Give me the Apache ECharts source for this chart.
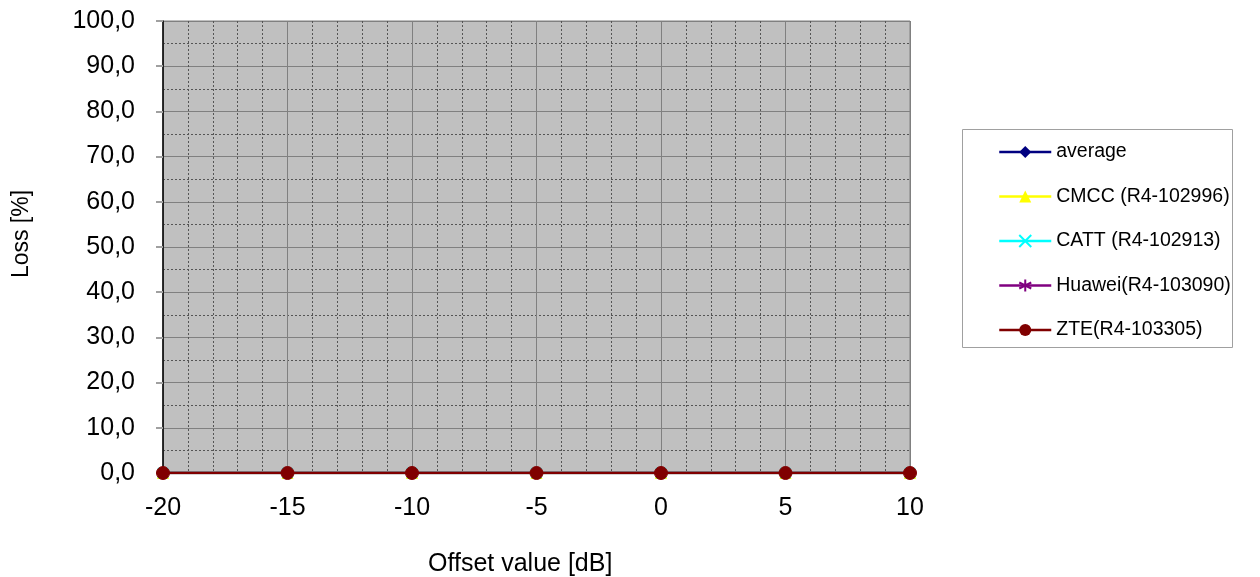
<!DOCTYPE html>
<html><head><meta charset="utf-8">
<script src="https://cdn.jsdelivr.net/npm/echarts@6/dist/echarts.min.js"></script>
<style>html,body{margin:0;padding:0;background:#fff}#c{width:1260px;height:577px}</style>
</head><body><div id="c"></div>
<script>
var offsets = [-20, -15, -10, -5, 0, 5, 10];
var avgLoss = [0, 0, 0, 0, 0, 0, 0];
var cmccLoss = [0, 0, 0, 0, 0, 0, 0];
var cattLoss = [0, 0, 0, 0, 0, 0, 0];
var huaweiLoss = [0, 0, 0, 0, 0, 0, 0];
var zteLoss = [0, 0, 0, 0, 0, 0, 0];
var seriesNames = ['average', 'CMCC (R4-102996)', 'CATT (R4-102913)', 'Huawei(R4-103090)', 'ZTE(R4-103305)'];
var xTitle = 'Offset value [dB]';
var yTitle = 'Loss [%]';

function pts(v){ return offsets.map(function(x,i){ return [x, v[i]]; }); }
var FONT = 'Liberation Sans, Arial, sans-serif';
var crossPath = 'path://M0,0L10,10M10,0L0,10';
var starPath = 'path://M5,0L5,10M0,2.5L10,7.5M10,2.5L0,7.5';

function mk(name, data, color, symbol, size, extra){
  var s = {
    name: name, type: 'line', data: pts(data),
    symbol: symbol, symbolSize: size,
    lineStyle: {color: color, width: 2.5},
    itemStyle: {color: color, borderColor: color},
    animation: false
  };
  if (extra) for (var k in extra) s[k] = extra[k];
  return s;
}

var chart = echarts.init(document.getElementById('c'));
chart.setOption({
  backgroundColor: '#fff',
  animation: false,
  grid: {left: 163, right: 350, top: 21, bottom: 104, show: true,
         backgroundColor: '#C0C0C0', borderColor: '#808080', borderWidth: 1},
  xAxis: {
    type: 'value', min: -20, max: 10, interval: 5,
    axisLine: {show: true, onZero: false, lineStyle: {color: '#000', width: 1}},
    axisTick: {show: true, length: 5, lineStyle: {color: '#808080'}},
    axisLabel: {color: '#000', fontFamily: FONT, fontSize: 25, margin: 23},
    splitLine: {show: true, lineStyle: {color: '#808080', width: 1}},
    minorTick: {show: false, splitNumber: 5},
    minorSplitLine: {show: true, lineStyle: {color: '#555', width: 1, type: [2, 2]}}
  },
  yAxis: {
    type: 'value', min: 0, max: 100, interval: 10,
    axisLine: {show: true, onZero: false, lineStyle: {color: '#000', width: 1.5}},
    axisTick: {show: true, inside: false, length: 7, lineStyle: {color: '#A0A0A0', width: 2}},
    axisLabel: {color: '#000', fontFamily: FONT, fontSize: 25, margin: 28,
                formatter: function(v){ return v.toFixed(1).replace('.', ','); }},
    splitLine: {show: true, lineStyle: {color: '#808080', width: 1}},
    minorTick: {show: false, splitNumber: 2},
    minorSplitLine: {show: true, lineStyle: {color: '#555', width: 1, type: [2, 2]}}
  },
  legend: {
    orient: 'vertical', left: 998, top: 142, padding: 0,
    itemWidth: 52, itemHeight: 15, itemGap: 24.5, itemTextGap: 5,
    lineStyle: {width: 2.5},
    textStyle: {color: '#000', fontFamily: FONT, fontSize: 19.5, lineHeight: 15},
    data: seriesNames
  },
  graphic: [
    {type: 'rect', shape: {x: 962.5, y: 129.5, width: 270, height: 218},
     style: {fill: 'none', stroke: '#A0A0A0', lineWidth: 1}, silent: true},
    {type: 'text', left: 428, top: 552,
     style: {text: xTitle, fill: '#000', font: '25px ' + FONT}},
    {type: 'text', x: 22, y: 234, rotation: Math.PI / 2,
     style: {text: yTitle, fill: '#000', font: '23px ' + FONT, align: 'center', verticalAlign: 'middle'}}
  ],
  series: [
    mk(seriesNames[0], avgLoss, '#000080', 'diamond', 11),
    mk(seriesNames[1], cmccLoss, '#FFFF00', 'triangle', 11),
    mk(seriesNames[2], cattLoss, '#00FFFF', crossPath, 10, {itemStyle: {color: '#00FFFF', borderColor: '#00FFFF', borderWidth: 1.5}}),
    mk(seriesNames[3], huaweiLoss, '#800080', starPath, 10, {itemStyle: {color: '#800080', borderColor: '#800080', borderWidth: 1.5}}),
    mk(seriesNames[4], zteLoss, '#800000', 'circle', 13)
  ]
});
</script></body></html>
